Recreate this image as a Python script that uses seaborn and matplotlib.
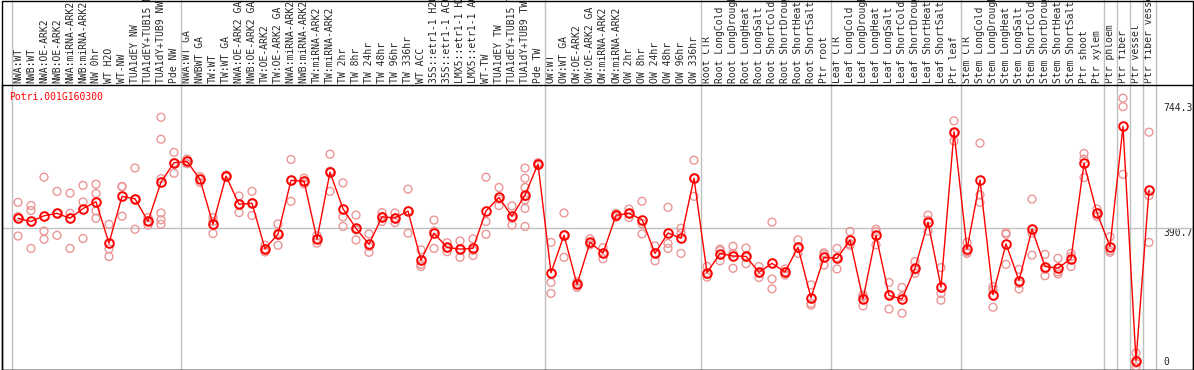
import numpy as np
import pandas as pd
import seaborn as sns
import matplotlib
matplotlib.use("Agg")
import matplotlib.pyplot as plt
from matplotlib.patches import Rectangle

sns.set_style("white")
plt.rcParams["font.family"] = ["DejaVu Sans Mono", "DejaVu Sans"]

gene = "Potri.001G160300"

labels = [
    "NWA:WT", "NWB:WT", "NWA:OE-ARK2", "NWB:OE-ARK2", "NWA:miRNA-ARK2", "NWB:miRNA-ARK2",
    "NW 0hr", "WT H2O", "WT-NW", "TUA1dEY NW", "TUA1dEY+TUB15 NW", "TUA1dY+TUB9 NW", "Pde NW",
    "NWA:WT GA", "NWBWT GA", "TW:WT", "TW:WT GA", "NWA:OE-ARK2 GA", "NWB:OE-ARK2 GA",
    "TW:OE-ARK2", "TW:OE-ARK2 GA", "NWA:miRNA-ARK2 GA", "NWB:miRNA-ARK2 GA", "TW:miRNA-ARK2",
    "TW:miRNA-ARK2", "TW 2hr", "TW 8hr", "TW 24hr", "TW 48hr", "TW 96hr", "TW 336hr", "WT ACC",
    "35S::etr1-1 H2O", "35S::etr1-1 ACC", "LMX5::etr1-1 H2O", "LMX5::etr1-1 ACC", "WT-TW",
    "TUA1dEY TW", "TUA1dEY+TUB15 TW", "TUA1dY+TUB9 TW", "Pde TW",
    "OW:WT", "OW:WT GA", "OW:OE-ARK2", "OW:OE-ARK2 GA", "OW:miRNA-ARK2", "OW:miRNA-ARK2",
    "OW 2hr", "OW 8hr", "OW 24hr", "OW 48hr", "OW 96hr", "OW 336hr",
    "Root CTR", "Root LongCold", "Root LongDrought", "Root LongHeat", "Root LongSalt",
    "Root ShortCold", "Root ShortDrought", "Root ShortHeat", "Root ShortSalt", "Ptr root",
    "Leaf CTR", "Leaf LongCold", "Leaf LongDrought", "Leaf LongHeat", "Leaf LongSalt",
    "Leaf ShortCold", "Leaf ShortDrought", "Leaf ShortHeat", "Leaf ShortSalt", "Ptr leaf",
    "Stem CTR", "Stem LongCold", "Stem LongDrought", "Stem LongHeat", "Stem LongSalt",
    "Stem ShortCold", "Stem ShortDrought", "Stem ShortHeat", "Stem ShortSalt",
    "Ptr shoot", "Ptr xylem", "Ptr phloem", "Ptr fiber", "Ptr vessel", "Ptr fiber vessel",
]

replicates = [
    [464, 424, 369], [455, 441, 334], [535, 383, 360], [495, 433, 371], [490, 433, 334],
    [512, 465, 362], [515, 489, 440, 419], [402, 333, 311], [509, 508, 425], [561, 473, 388],
    [421, 411, 400], [704, 642, 531, 434, 415, 402], [605, 576, 546],
    [586, 580, 573], [537, 529, 520], [421, 410, 376], [541, 538, 536], [482, 459, 435],
    [495, 462, 427], [343, 333, 324], [403, 377, 343], [585, 526, 467], [532, 523, 516],
    [370, 361, 349], [600, 552, 495], [519, 423, 396], [428, 386, 358], [375, 339, 323],
    [435, 424, 410], [434, 419, 407], [501, 440, 377], [330, 289, 283], [414, 383, 334],
    [350, 336, 325], [355, 332, 309], [361, 328, 314], [535, 410, 374], [506, 473, 455],
    [454, 419, 400], [561, 532, 506, 480, 471, 447, 396], [576, 572, 568],
    [351, 238, 207], [434, 371, 309], [240, 233, 224], [361, 349, 344], [336, 320, 305],
    [433, 427, 422], [445, 433, 421], [467, 404, 375], [341, 320, 299], [450, 348, 334],
    [391, 377, 320], [583, 532, 481],
    [283, 261, 253], [332, 328, 299], [340, 320, 278], [335, 309, 291], [283, 264, 252],
    [408, 248, 220], [276, 268, 259], [358, 334, 320], [231, 179, 174], [322, 317, 287],
    [334, 308, 276], [382, 347, 343], [203, 198, 172], [388, 381, 344], [238, 204, 163],
    [224, 198, 151], [297, 273, 264], [428, 414, 383], [280, 207, 188], [694, 659, 637],
    [351, 325, 320], [631, 485, 464], [226, 217, 168], [378, 374, 289], [275, 235, 220],
    [473, 377, 315], [317, 275, 257], [306, 268, 262], [320, 311, 283],
    [602, 586, 534], [445, 433, 424], [367, 328, 323], [758, 734, 543], [39, 10, 0],
    [662, 483, 351],
]

ytick_values = [0, 390.7, 744.3]
group_breaks = [-0.5, 12.5, 40.5, 52.5, 62.5, 72.5, 83.5, 84.5, 85.5, 86.5, 87.5]

rows = [(i, v) for i, reps in enumerate(replicates) for v in reps]
df = pd.DataFrame(rows, columns=["idx", "value"])

W, H = 1194, 370
fig = plt.figure(figsize=(W / 100, H / 100), dpi=100)
ax = fig.add_axes([1.5 / W, 0.5 / H, 1191 / W, 284.5 / H])

sns.scatterplot(data=df, x="idx", y="value", ax=ax, marker="o", s=32,
                facecolors="none", edgecolor="#eb9696", linewidth=1.0, zorder=3,
                legend=False)
sns.lineplot(data=df, x="idx", y="value", ax=ax, estimator="mean", errorbar=None,
             color="red", linewidth=1.0, marker="o", markersize=6.2,
             markerfacecolor="none", markeredgecolor="red", markeredgewidth=1.4,
             zorder=4, legend=False)

ax.set_xlim((1.5 - 18) / 13, (1192.5 - 18) / 13)
ax.set_ylim(-7.6, 795.1)

ax.axhline(390.7, color="#c0c0c0", lw=1.0, zorder=1)
ext = 1 + 85 / 284.5
for b in group_breaks:
    ax.axvline(b, ymin=0, ymax=ext, color="#c0c0c0", lw=1.0, clip_on=False, zorder=1)

ax.set_xticks(range(len(labels)))
ax.set_xticklabels(labels, rotation=90, fontsize=7)
ax.xaxis.tick_top()
ax.tick_params(axis="x", length=0, pad=1.2, labelbottom=False, labeltop=True,
               bottom=False, top=False)
ax.set_xlabel("")
ax.set_ylabel("")

ax.yaxis.tick_right()
ax.set_yticks(ytick_values)
ax.set_yticklabels([f"{v:g}" for v in ytick_values])
ax.tick_params(axis="y", length=0, pad=-(1192.5 - 1163) * 0.72, labelsize=7,
               left=False, right=False, labelleft=False, labelright=True)
for lab, v in zip(ax.get_yticklabels(), ytick_values):
    lab.set_va("bottom" if v == 0 else "top")

for s in ax.spines.values():
    s.set_visible(True)
    s.set_color("black")
    s.set_linewidth(1.0)

ax.text(0.0066, 0.958, gene, transform=ax.transAxes, color="red", fontsize=7,
        ha="left", va="center")

fig.add_artist(Rectangle((1.5 / W, 0.5 / H), 1191 / W, 369 / H, transform=fig.transFigure,
                         fill=False, edgecolor="black", lw=1.0))

fig.savefig("out.png", dpi=100, facecolor="white")
